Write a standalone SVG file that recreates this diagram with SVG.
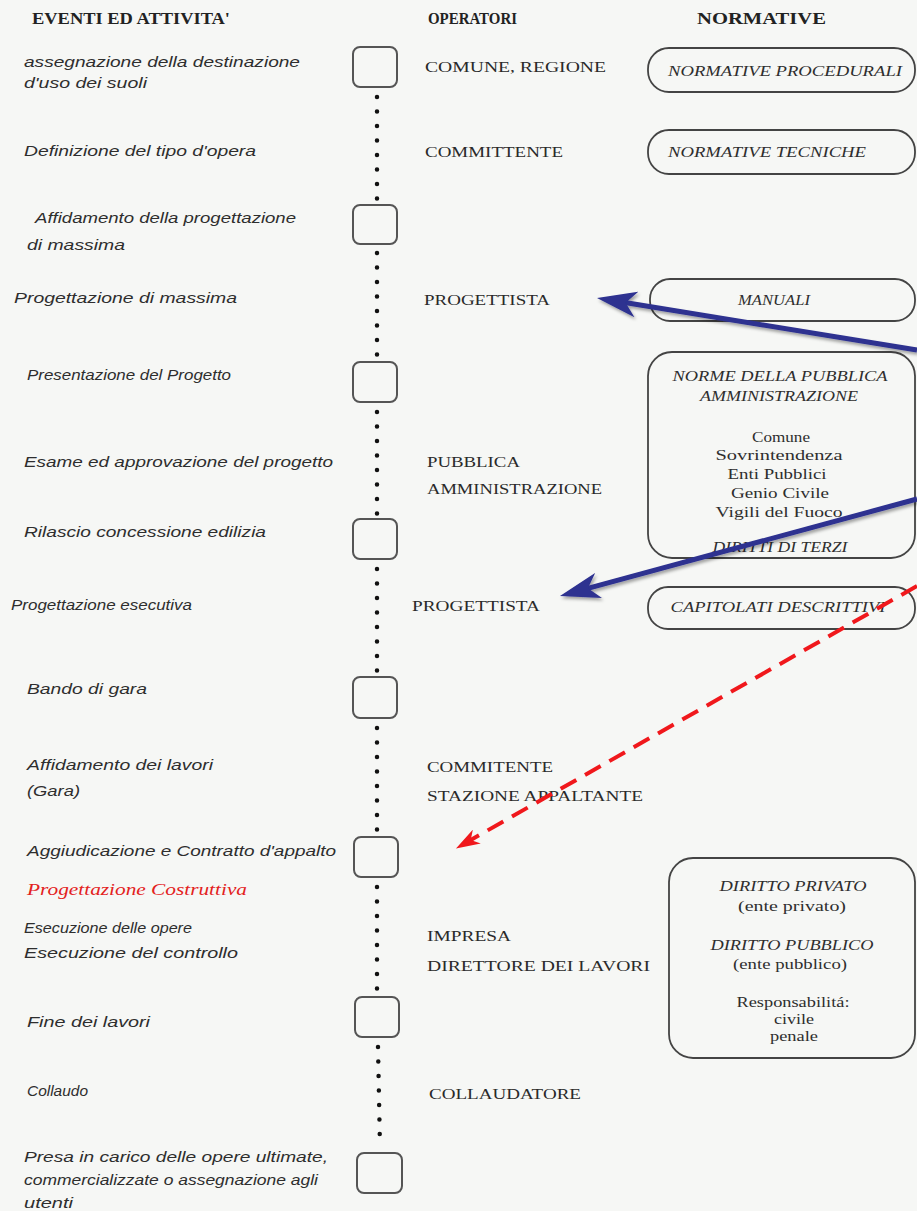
<svg xmlns="http://www.w3.org/2000/svg" width="917" height="1211" viewBox="0 0 917 1211">
<style>
.hdr{font-family:"Liberation Serif",serif;font-weight:bold;font-size:17px;fill:#222}
.ev{font-family:"Liberation Sans",sans-serif;font-style:italic;font-size:14.5px;fill:#2e2e2e}
.op{font-family:"Liberation Serif",serif;font-size:15px;fill:#2a2a2a}
.nt{font-family:"Liberation Serif",serif;font-style:italic;font-size:14px;fill:#2e2e2e;text-anchor:middle}
.nr{font-family:"Liberation Serif",serif;font-size:14px;fill:#2e2e2e;text-anchor:middle}
.red{font-family:"Liberation Serif",serif;font-style:italic;font-size:16px;fill:#e3221d}
.sq{fill:none;stroke:#555;stroke-width:2}
.bx{fill:none;stroke:#444;stroke-width:1.8}
.dots{stroke:#111;stroke-width:4.5;stroke-linecap:round;stroke-dasharray:0 14.5;fill:none}
.blue{stroke:#2d3190;stroke-width:5;fill:none;filter:url(#sh)}
.reddash{stroke:#f0181c;stroke-width:4;stroke-dasharray:18 10;fill:none}
</style>
<defs>
<filter id="sh" x="-10%" y="-50%" width="120%" height="200%">
<feDropShadow dx="1.5" dy="2.5" stdDeviation="1.5" flood-color="#000" flood-opacity="0.35"/>
</filter>
<marker id="ab" markerUnits="userSpaceOnUse" viewBox="0 0 40 26" markerWidth="40" markerHeight="26" refX="15" refY="13" orient="auto">
<path d="M0,0 L40,13 L0,26 L11,13 z" fill="#2d3190"/>
</marker>
<marker id="ar" markerUnits="userSpaceOnUse" viewBox="0 0 24 16" markerWidth="24" markerHeight="16" refX="9" refY="8" orient="auto">
<path d="M0,0 L24,8 L0,16 L7,8 z" fill="#f0181c"/>
</marker>
</defs>
<rect width="917" height="1211" fill="#f6f7f5"/>

<g id="headers">
<text class="hdr" x="32" y="24" textLength="198" lengthAdjust="spacingAndGlyphs">EVENTI ED ATTIVITA'</text>
<text class="hdr" x="428" y="24" textLength="89" lengthAdjust="spacingAndGlyphs">OPERATORI</text>
<text class="hdr" x="697" y="24" textLength="129" lengthAdjust="spacingAndGlyphs">NORMATIVE</text>
</g>

<g id="timeline">
<line class="dots" x1="377" y1="97" x2="377" y2="200"/>
<line class="dots" x1="377" y1="253" x2="377" y2="357"/>
<line class="dots" x1="377" y1="412" x2="377" y2="514"/>
<line class="dots" x1="377" y1="569" x2="377" y2="672"/>
<line class="dots" x1="377" y1="728" x2="377" y2="832"/>
<line class="dots" x1="377" y1="887" x2="377" y2="992"/>
<line class="dots" x1="378" y1="1047" x2="380" y2="1148"/>
</g>

<g id="milestones">
<rect id="m1" class="sq" x="353" y="47" width="44" height="40" rx="7"/>
<rect id="m2" class="sq" x="353" y="205" width="44" height="39" rx="7"/>
<rect id="m3" class="sq" x="353" y="362" width="44" height="40" rx="7"/>
<rect id="m4" class="sq" x="353" y="519" width="44" height="40" rx="7"/>
<rect id="m5" class="sq" x="353" y="677" width="44" height="41" rx="7"/>
<rect id="m6" class="sq" x="354" y="837" width="44" height="40" rx="7"/>
<rect id="m7" class="sq" x="355" y="997" width="44" height="40" rx="7"/>
<rect id="m8" class="sq" x="357" y="1153" width="45" height="40" rx="7"/>
</g>

<g id="events">
<text class="ev" x="24" y="67" textLength="276" lengthAdjust="spacingAndGlyphs">assegnazione della destinazione</text>
<text class="ev" x="24" y="88" textLength="123" lengthAdjust="spacingAndGlyphs">d'uso dei suoli</text>
<text class="ev" x="24" y="156" textLength="232" lengthAdjust="spacingAndGlyphs">Definizione del tipo d'opera</text>
<text class="ev" x="35" y="223" textLength="261" lengthAdjust="spacingAndGlyphs">Affidamento della progettazione</text>
<text class="ev" x="27" y="250" textLength="98" lengthAdjust="spacingAndGlyphs">di massima</text>
<text class="ev" x="14" y="303" textLength="223" lengthAdjust="spacingAndGlyphs">Progettazione di massima</text>
<text class="ev" x="27" y="380" textLength="204" lengthAdjust="spacingAndGlyphs">Presentazione del Progetto</text>
<text class="ev" x="24" y="467" textLength="309" lengthAdjust="spacingAndGlyphs">Esame ed approvazione del progetto</text>
<text class="ev" x="24" y="537" textLength="242" lengthAdjust="spacingAndGlyphs">Rilascio concessione edilizia</text>
<text class="ev" x="11" y="610" textLength="181" lengthAdjust="spacingAndGlyphs">Progettazione esecutiva</text>
<text class="ev" x="27" y="694" textLength="120" lengthAdjust="spacingAndGlyphs">Bando di gara</text>
<text class="ev" x="27" y="770" textLength="186" lengthAdjust="spacingAndGlyphs">Affidamento dei lavori</text>
<text class="ev" x="27" y="796" textLength="53" lengthAdjust="spacingAndGlyphs">(Gara)</text>
<text class="ev" x="27" y="856" textLength="309" lengthAdjust="spacingAndGlyphs">Aggiudicazione e Contratto d'appalto</text>
<text class="red" x="27" y="895" textLength="220" lengthAdjust="spacingAndGlyphs">Progettazione Costruttiva</text>
<text class="ev" x="24" y="933" textLength="168" lengthAdjust="spacingAndGlyphs">Esecuzione delle opere</text>
<text class="ev" x="24" y="958" textLength="214" lengthAdjust="spacingAndGlyphs">Esecuzione del controllo</text>
<text class="ev" x="27" y="1027" textLength="123" lengthAdjust="spacingAndGlyphs">Fine dei lavori</text>
<text class="ev" x="27" y="1096" textLength="61" lengthAdjust="spacingAndGlyphs">Collaudo</text>
<text class="ev" x="24" y="1162" textLength="304" lengthAdjust="spacingAndGlyphs">Presa in carico delle opere ultimate,</text>
<text class="ev" x="24" y="1185" textLength="294" lengthAdjust="spacingAndGlyphs">commercializzate o assegnazione agli</text>
<text class="ev" x="24" y="1208" textLength="49" lengthAdjust="spacingAndGlyphs">utenti</text>
</g>

<g id="operators">
<text class="op" x="425" y="72" textLength="181" lengthAdjust="spacingAndGlyphs">COMUNE, REGIONE</text>
<text class="op" x="425" y="157" textLength="138" lengthAdjust="spacingAndGlyphs">COMMITTENTE</text>
<text class="op" x="424" y="305" textLength="126" lengthAdjust="spacingAndGlyphs">PROGETTISTA</text>
<text class="op" x="427" y="467" textLength="93" lengthAdjust="spacingAndGlyphs">PUBBLICA</text>
<text class="op" x="427" y="494" textLength="175" lengthAdjust="spacingAndGlyphs">AMMINISTRAZIONE</text>
<text class="op" x="412" y="611" textLength="128" lengthAdjust="spacingAndGlyphs">PROGETTISTA</text>
<text class="op" x="427" y="772" textLength="126" lengthAdjust="spacingAndGlyphs">COMMITENTE</text>
<text class="op" x="427" y="801" textLength="216" lengthAdjust="spacingAndGlyphs">STAZIONE APPALTANTE</text>
<text class="op" x="427" y="941" textLength="84" lengthAdjust="spacingAndGlyphs">IMPRESA</text>
<text class="op" x="427" y="971" textLength="223" lengthAdjust="spacingAndGlyphs">DIRETTORE DEI LAVORI</text>
<text class="op" x="429" y="1099" textLength="152" lengthAdjust="spacingAndGlyphs">COLLAUDATORE</text>
</g>

<g id="n-procedurali">
<rect class="bx" x="648" y="48" width="267" height="44" rx="21"/>
<text class="nt" x="785" y="76" textLength="234" lengthAdjust="spacingAndGlyphs">NORMATIVE PROCEDURALI</text>
</g>
<g id="n-tecniche">
<rect class="bx" x="648" y="130" width="267" height="44" rx="21"/>
<text class="nt" x="767" y="157" textLength="198" lengthAdjust="spacingAndGlyphs">NORMATIVE TECNICHE</text>
</g>
<g id="n-manuali">
<rect class="bx" x="650" y="279" width="265" height="42" rx="20"/>
<text class="nt" x="774" y="305" textLength="72" lengthAdjust="spacingAndGlyphs">MANUALI</text>
</g>
<g id="n-pa">
<rect class="bx" x="648" y="352" width="267" height="206" rx="24"/>
<text class="nt" x="780" y="381" textLength="215" lengthAdjust="spacingAndGlyphs">NORME DELLA PUBBLICA</text>
<text class="nt" x="779" y="401" textLength="158" lengthAdjust="spacingAndGlyphs">AMMINISTRAZIONE</text>
<text class="nr" x="781" y="442" textLength="58" lengthAdjust="spacingAndGlyphs">Comune</text>
<text class="nr" x="779" y="460" textLength="127" lengthAdjust="spacingAndGlyphs">Sovrintendenza</text>
<text class="nr" x="777" y="479" textLength="99" lengthAdjust="spacingAndGlyphs">Enti Pubblici</text>
<text class="nr" x="780" y="498" textLength="98" lengthAdjust="spacingAndGlyphs">Genio Civile</text>
<text class="nr" x="779" y="517" textLength="127" lengthAdjust="spacingAndGlyphs">Vigili del Fuoco</text>
<text class="nt" x="780" y="552" textLength="135" lengthAdjust="spacingAndGlyphs">DIRITTI DI TERZI</text>
</g>
<g id="n-capitolati">
<rect class="bx" x="648" y="587" width="267" height="42" rx="20"/>
<text class="nt" x="778" y="612" textLength="215" lengthAdjust="spacingAndGlyphs">CAPITOLATI DESCRITTIVI</text>
</g>
<g id="n-diritto">
<rect class="bx" x="669" y="858" width="246" height="200" rx="24"/>
<text class="nt" x="793" y="891" textLength="147" lengthAdjust="spacingAndGlyphs">DIRITTO PRIVATO</text>
<text class="nr" x="792" y="911" textLength="108" lengthAdjust="spacingAndGlyphs">(ente privato)</text>
<text class="nt" x="792" y="950" textLength="163" lengthAdjust="spacingAndGlyphs">DIRITTO PUBBLICO</text>
<text class="nr" x="790" y="969" textLength="114" lengthAdjust="spacingAndGlyphs">(ente pubblico)</text>
<text class="nr" x="793" y="1007" textLength="113" lengthAdjust="spacingAndGlyphs">Responsabilitá:</text>
<text class="nr" x="794" y="1024" textLength="40" lengthAdjust="spacingAndGlyphs">civile</text>
<text class="nr" x="794" y="1041" textLength="48" lengthAdjust="spacingAndGlyphs">penale</text>
</g>

<g id="connectors">
<line class="blue" x1="917" y1="350" x2="621.7" y2="302" marker-end="url(#ab)"/>
<line class="blue" x1="917" y1="429" x2="585" y2="429" marker-end="url(#ab)"/>
<line class="blue" x1="917" y1="499" x2="584.1" y2="589.4" marker-end="url(#ab)"/>
<line class="reddash" x1="917" y1="586" x2="469" y2="841" marker-end="url(#ar)"/>
</g>
</svg>
